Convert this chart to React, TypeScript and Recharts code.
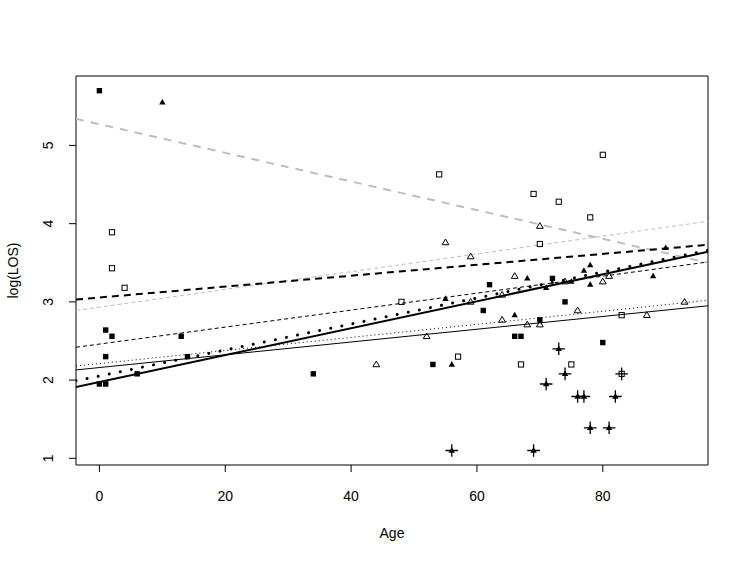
import React from "react";
import {
  ScatterChart,
  Scatter,
  XAxis,
  YAxis,
  ReferenceLine,
  ReferenceArea,
} from "recharts";

// axis ranges (R pads the data range by 4%)
const xRange = [-3.72, 96.72];
const yRange = [0.9145, 5.8877];
const ageTicks = [0, 20, 40, 60, 80];
const losTicks = [1, 2, 3, 4, 5];

// points: [age, log(LOS)]
const filledSquares = [
  [0, 5.7], [1, 2.64], [2, 2.56], [1, 2.3], [0, 1.95], [1, 1.95], [6, 2.08],
  [13, 2.56], [14, 2.3], [34, 2.08], [53, 2.2], [61, 2.89], [62, 3.22],
  [66, 2.56], [67, 2.56], [70, 2.77], [72, 3.3], [74, 3.0], [80, 2.48],
];
const filledTriangles = [
  [10, 5.55], [55, 3.04], [56, 2.2], [66, 2.83], [68, 3.3], [71, 3.18],
  [75, 3.26], [77, 3.4], [78, 3.47], [78, 3.22], [88, 3.33], [90, 3.69],
  [73, 2.4], [74, 2.08], [71, 1.95], [76, 1.79], [77, 1.79], [82, 1.79],
  [78, 1.39], [81, 1.39], [56, 1.1], [69, 1.1],
];
const openSquares = [
  [2, 3.89], [2, 3.43], [4, 3.18], [48, 3.0], [54, 4.63], [57, 2.3],
  [67, 2.2], [69, 4.38], [70, 3.74], [73, 4.28], [75, 2.2], [78, 4.08],
  [80, 4.88], [83, 2.83], [83, 2.08],
];
const openTriangles = [
  [44, 2.2], [52, 2.56], [55, 3.76], [59, 3.58], [59, 3.0], [64, 3.09],
  [64, 2.77], [66, 3.33], [68, 2.71], [70, 2.71], [70, 3.97], [74, 3.26],
  [76, 2.89], [80, 3.26], [81, 3.33], [87, 2.83], [93, 3.0],
];
const flagged = [
  [56, 1.1], [69, 1.1], [71, 1.95], [73, 2.4], [74, 2.08], [76, 1.79],
  [77, 1.79], [78, 1.39], [81, 1.39], [82, 1.79], [83, 2.08],
];

// fitted lines: log(LOS) at the left and right edge of the plot
const fitLeft = [5.34, 2.89, 3.03, 2.42, 1.91, 1.99, 2.18, 2.13];
const fitRight = [3.5, 4.03, 3.73, 3.51, 3.64, 3.66, 3.02, 2.95];

const fitStyle = [
  { stroke: "#bebebe", width: 2, dash: "8 7" },
  { stroke: "#bebebe", width: 1, dash: "4 3" },
  { stroke: "#000", width: 2, dash: "7 5" },
  { stroke: "#000", width: 1, dash: "4 3" },
  { stroke: "#000", width: 2, dash: undefined },
  { stroke: "#000", width: 3, dash: "0.01 11.3", cap: "round" },
  { stroke: "#000", width: 1, dash: "1 3" },
  { stroke: "#000", width: 1, dash: undefined },
];

const FONT = "'Liberation Sans', Arial, Helvetica, sans-serif";
const FS = 14;

const toXY = (rows: number[][]) => rows.map(([x, y]) => ({ x, y }));

const FilledSquare = ({ cx, cy }: any) => (
  <rect x={cx - 2.7} y={cy - 2.7} width={5.4} height={5.4} fill="#000" />
);
const OpenSquare = ({ cx, cy }: any) => (
  <rect x={cx - 2.6} y={cy - 2.6} width={5.2} height={5.2} fill="none" stroke="#000" strokeWidth={1} />
);
const FilledTriangle = ({ cx, cy }: any) => (
  <polygon points={`${cx},${cy - 3.4} ${cx + 3.2},${cy + 2.2} ${cx - 3.2},${cy + 2.2}`} fill="#000" />
);
const OpenTriangle = ({ cx, cy }: any) => (
  <polygon
    points={`${cx},${cy - 3.4} ${cx + 3.4},${cy + 2.3} ${cx - 3.4},${cy + 2.3}`}
    fill="none"
    stroke="#000"
    strokeWidth={1}
  />
);
const Plus = ({ cx, cy }: any) => (
  <path d={`M${cx - 6.3},${cy}H${cx + 6.3}M${cx},${cy - 6.3}V${cy + 6.3}`} stroke="#000" strokeWidth={1.3} />
);

const AgeTick = ({ x, y, payload }: any) => (
  <text x={x} y={y + 26.5} textAnchor="middle" fontFamily={FONT} fontSize={FS} fill="#000">
    {payload.value}
  </text>
);
const LosTick = ({ y, payload }: any) => (
  <text
    x={53.5}
    y={y}
    transform={`rotate(-90, 53.5, ${y})`}
    textAnchor="middle"
    fontFamily={FONT}
    fontSize={FS}
    fill="#000"
  >
    {payload.value}
  </text>
);

export default function App() {
  return (
    <div style={{ position: "absolute", left: 0, top: 0, width: 747, height: 561, background: "#fff" }}>
      <ScatterChart width={747} height={561} margin={{ top: 76, right: 39, bottom: 0, left: 0 }}>
        <XAxis
          type="number"
          dataKey="x"
          domain={xRange}
          ticks={ageTicks}
          allowDataOverflow
          axisLine={false}
          tickLine={{ stroke: "#000" }}
          tickSize={7}
          tick={<AgeTick />}
          height={96}
        />
        <YAxis
          type="number"
          dataKey="y"
          domain={yRange}
          ticks={losTicks}
          allowDataOverflow
          axisLine={false}
          tickLine={{ stroke: "#000" }}
          tickSize={7}
          tick={<LosTick />}
          width={76}
        />
        <Scatter data={toXY(filledSquares)} shape={<FilledSquare />} isAnimationActive={false} />
        <Scatter data={toXY(filledTriangles)} shape={<FilledTriangle />} isAnimationActive={false} />
        <Scatter data={toXY(openSquares)} shape={<OpenSquare />} isAnimationActive={false} />
        <Scatter data={toXY(openTriangles)} shape={<OpenTriangle />} isAnimationActive={false} />
        <Scatter data={toXY(flagged)} shape={<Plus />} isAnimationActive={false} />
        {fitLeft.map((left, i) => (
          <ReferenceLine
            key={i}
            ifOverflow="hidden"
            segment={[
              { x: xRange[0], y: left },
              { x: xRange[1], y: fitRight[i] },
            ]}
            stroke={fitStyle[i].stroke}
            strokeWidth={fitStyle[i].width}
            strokeDasharray={fitStyle[i].dash}
            strokeLinecap={(fitStyle[i] as any).cap || "butt"}
          />
        ))}
        <ReferenceArea
          x1={xRange[0]}
          x2={xRange[1]}
          y1={yRange[0]}
          y2={yRange[1]}
          fill="none"
          stroke="#000"
          strokeWidth={1}
          ifOverflow="visible"
        />
      </ScatterChart>
      <svg
        width={747}
        height={561}
        style={{ position: "absolute", left: 0, top: 0, pointerEvents: "none" }}
      >
        <text x={392} y={537.5} textAnchor="middle" fontFamily={FONT} fontSize={FS} fill="#000">
          Age
        </text>
        <text
          x={17.5}
          y={270.5}
          transform="rotate(-90, 17.5, 270.5)"
          textAnchor="middle"
          fontFamily={FONT}
          fontSize={FS}
          fill="#000"
        >
          log(LOS)
        </text>
      </svg>
    </div>
  );
}
